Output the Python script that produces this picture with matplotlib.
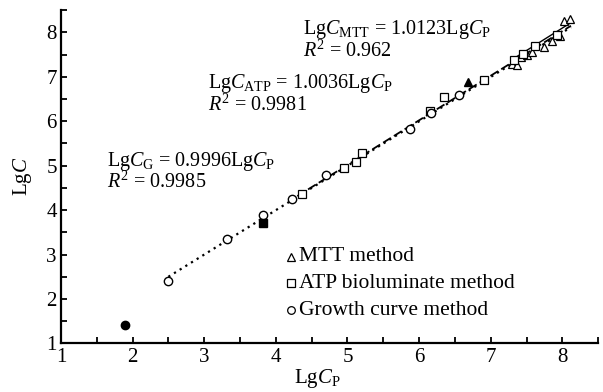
import matplotlib
matplotlib.use("Agg")
import matplotlib.pyplot as plt
import numpy as np
from matplotlib.ticker import MultipleLocator

plt.rcParams['font.family'] = ['Liberation Serif', 'DejaVu Serif']
plt.rcParams['mathtext.fontset'] = 'custom'
plt.rcParams['mathtext.rm'] = 'Liberation Serif'
plt.rcParams['mathtext.it'] = 'Liberation Serif:italic'
plt.rcParams['mathtext.bf'] = 'Liberation Serif:bold'

# MTT method (triangles)
mtt_x = [7.30, 7.36, 7.42, 7.50, 7.57, 7.75, 7.85, 7.97, 8.02, 8.10]
mtt_y = [7.30, 7.27, 7.45, 7.50, 7.57, 7.68, 7.80, 7.92, 8.26, 8.30]
mtt_out_x = [6.68]
mtt_out_y = [6.88]
# ATP bioluminate method (squares)
atp_x = [4.37, 4.95, 5.12, 5.21, 6.15, 6.35, 6.90, 7.33, 7.45, 7.62, 7.92]
atp_y = [4.36, 4.95, 5.09, 5.28, 6.22, 6.54, 6.93, 7.38, 7.52, 7.70, 7.95]
atp_out_x = [3.82]
atp_out_y = [3.72]
# Growth curve method (circles)
gc_x = [2.50, 3.32, 3.82, 4.23, 4.70, 5.87, 6.17, 6.56]
gc_y = [2.41, 3.36, 3.89, 4.24, 4.79, 5.82, 6.18, 6.58]
gc_out_x = [1.90]
gc_out_y = [1.41]

# fitted slopes and ranges
k_mtt, r_mtt, range_mtt = 1.0123, 0.962, (7.30, 8.12)
k_atp, r_atp, range_atp = 1.0036, 0.9981, (4.30, 8.12)
k_gc, r_gc, range_gc = 0.9996, 0.9985, (2.50, 8.12)

fig = plt.figure(figsize=(6.03, 3.92), dpi=100)
ax = fig.add_axes([0.101, 0.124, 0.891, 0.850])

ms = 6.0
# fit lines
xs = np.linspace(*range_gc, 50)
ax.plot(xs, k_gc * xs, linestyle=(0, (1, 2)), color='black', lw=1.6)
xs = np.linspace(*range_atp, 50)
ax.plot(xs, k_atp * xs, linestyle=(0, (5, 2)), color='black', lw=1.3)
xs = np.linspace(*range_mtt, 50)
ax.plot(xs, k_mtt * xs, linestyle='-', color='black', lw=1.0)

ax.plot(mtt_x, mtt_y, '^', ms=ms, mfc='white', mec='black', mew=0.9, ls='none')
ax.plot(atp_x, atp_y, 's', ms=ms, mfc='white', mec='black', mew=0.9, ls='none')
ax.plot(gc_x, gc_y, 'o', ms=ms, mfc='white', mec='black', mew=1.0, ls='none')
ax.plot(mtt_out_x, mtt_out_y, '^', ms=ms, mfc='black', mec='black', ls='none')
ax.plot(atp_out_x, atp_out_y, 's', ms=ms, mfc='black', mec='black', ls='none')
ax.plot(gc_out_x, gc_out_y, 'o', ms=ms, mfc='black', mec='black', ls='none')

ax.set_xlim(1, 8.5)
ax.set_ylim(1, 8.5)
ax.xaxis.set_major_locator(MultipleLocator(1))
ax.xaxis.set_minor_locator(MultipleLocator(0.5))
ax.yaxis.set_major_locator(MultipleLocator(1))
ax.yaxis.set_minor_locator(MultipleLocator(0.5))
ax.tick_params(which='both', direction='in', width=1.3, length=4, labelsize=15, pad=3)
ax.tick_params(which='both', top=False, right=False)
for s in ['top', 'right']:
    ax.spines[s].set_visible(False)
for s in ['left', 'bottom']:
    ax.spines[s].set_linewidth(1.6)

ax.set_xlabel(r'Lg$C_\mathrm{P}$', fontsize=15)
ax.xaxis.set_label_coords(0.478, -0.072)
ax.set_ylabel(r'Lg$C$', fontsize=15, labelpad=9)

fs = 14.5
ax.text(4.375, 7.97, r'Lg$C_\mathrm{MTT}$ = %.4fLg$C_\mathrm{P}$' % k_mtt, fontsize=fs, va='baseline')
ax.text(4.375, 7.45, r'$R^2$ = %g' % r_mtt, fontsize=fs, va='baseline')
ax.text(3.06, 6.75, r'Lg$C_\mathrm{ATP}$ = %.4fLg$C_\mathrm{P}$' % k_atp, fontsize=fs, va='baseline')
ax.text(3.06, 6.23, r'$R^2$ = %g' % r_atp, fontsize=fs, va='baseline')
ax.text(1.64, 5.00, r'Lg$C_\mathrm{G}$ = %.4fLg$C_\mathrm{P}$' % k_gc, fontsize=fs, va='baseline')
ax.text(1.64, 4.50, r'$R^2$ = %g' % r_gc, fontsize=fs, va='baseline')

# legend (manual)
labels = ['MTT method', 'ATP bioluminate method', 'Growth curve method']
markers = ['^', 's', 'o']
ys = [0.26, 0.181, 0.10]
for lab, mk, yy in zip(labels, markers, ys):
    ax.plot([0.428], [yy], mk, ms=5.5, mfc='white', mec='black', mew=0.9, transform=ax.transAxes, clip_on=False)
    ax.text(0.443, yy, lab, fontsize=15.5, va='center', transform=ax.transAxes)

fig.savefig('out.png', dpi=100)
